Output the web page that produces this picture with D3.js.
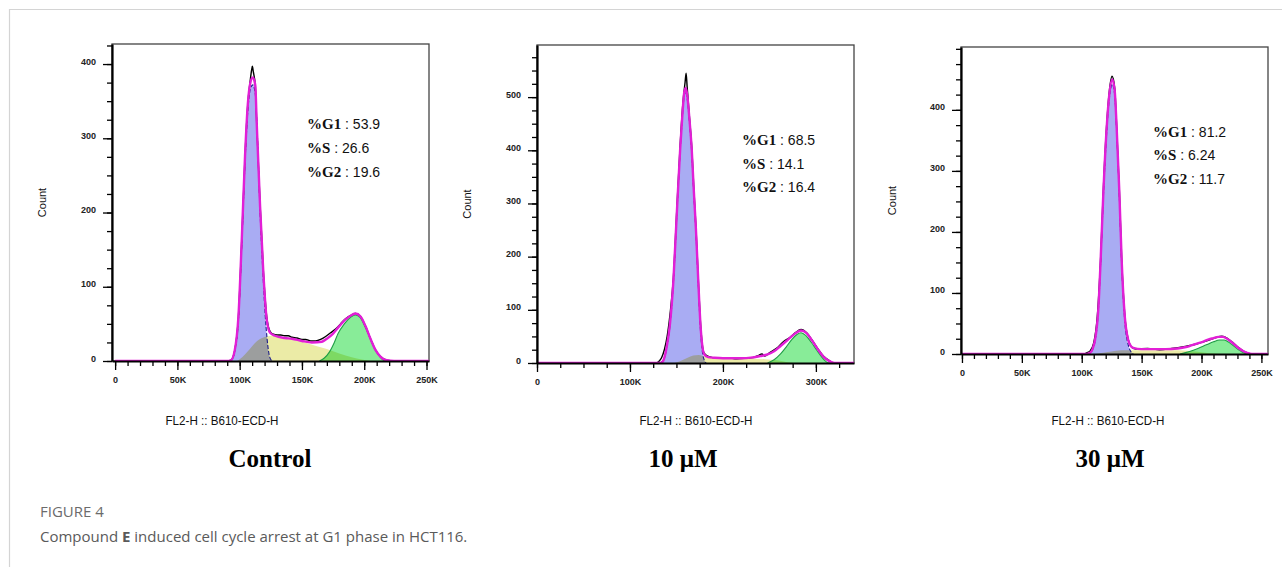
<!DOCTYPE html>
<html>
<head>
<meta charset="utf-8">
<script src="https://cdn.jsdelivr.net/npm/d3@7/dist/d3.min.js"></script>
<style>
  body { margin: 0; background: #fff; }
  svg { display: block; font-family: "Liberation Sans", Arial, sans-serif; }
  .axis .domain { stroke: #000; stroke-width: 2.2; }
  .axis line { stroke: #000; stroke-width: 1.3; }
  .axis text { font-size: 9px; font-weight: bold; fill: #222; font-family: "Liberation Sans", Arial, sans-serif; }
  .frame { fill: none; stroke: #444; stroke-width: 1.3; }
  .blend { mix-blend-mode: multiply; }
</style>
</head>
<body>
<div id="chart"></div>
<script>
// ---- labels ----
const conditions = ["Control", "10 μM", "30 μM"];
const g1Pct = ["53.9", "68.5", "81.2"];
const sPct = ["26.6", "14.1", "6.24"];
const g2Pct = ["19.6", "16.4", "11.7"];
const xTitle = "FL2-H :: B610-ECD-H";

// tick values (x in thousands)
const ctrlXTicks = [0, 50, 100, 150, 200, 250];
const ctrlYTicks = [0, 100, 200, 300, 400];
const uM10XTicks = [0, 100, 200, 300];
const uM10YTicks = [0, 100, 200, 300, 400, 500];
const uM30XTicks = [0, 50, 100, 150, 200, 250];
const uM30YTicks = [0, 100, 200, 300, 400];

// ---- Control: [FL2-H (K), count] ----
const ctrlData = [[0,0],[90,0],[93,1],[96,14],[99,60],[101.7,164],[104.3,276],[106.5,345],[108.5,378],[109.6,392],[110.2,397],[110.9,390],[112.5,372],[113.7,320],[116.4,210],[119,122],[121.7,60],[124.4,40],[127,36],[130,35],[133,35],[136,34],[139,34],[142,32],[146,31],[150,29],[153,29],[157,27],[161,27],[165,29],[169,33],[173,38],[177,43],[181,50],[185,57],[190,62],[193,64],[197,60],[201,47],[205,30],[209,15],[213,6],[218,1],[224,0],[252,0]];
const ctrlFit = [[0,0],[90,0],[93,1],[96,14],[99,60],[101.7,164],[104.3,276],[106.5,345],[108.5,374],[110.5,382],[112.5,372],[113.7,320],[116.4,208],[119,119],[121.7,56],[124.4,38],[128.4,34],[136.4,31],[142,30],[150,27],[158,25],[166,26],[170,30],[175,37],[180,47],[185,56],[190,62],[193,64],[197,60],[201,47],[205,30],[209,15],[213,6],[218,1],[224,0],[252,0]];
const ctrlG1 = [[92,0],[94,3],[96,13],[99,55],[101.7,158],[104.3,268],[106.5,336],[108.5,366],[110.5,372],[112.5,360],[114,312],[116.4,200],[119,108],[120.5,62],[122,30],[123.5,10],[125,2],[126.5,0]];
const ctrlS = [[98,0],[102,5],[106,12],[110,20],[114,27],[118,31],[122,33],[126,34],[132,33],[140,30],[150,26],[160,21],[170,16],[180,10],[190,5],[198,2],[205,0]];
const ctrlG2 = [[164,0],[168,4],[172,12],[176,25],[179,37],[184,50],[189,59],[193,62],[197,58],[201,45],[205,30],[209,15],[213,5],[216,0]];

// ---- 10 μM ----
const uM10Data = [[0,0],[128,0],[131,3],[134,10],[137,25],[140,50],[143,90],[146.7,160],[150.3,285],[154,410],[157,490],[159.3,528],[160.4,545],[161.5,520],[164,462],[166.5,405],[168.5,335],[171,255],[173.6,155],[176,72],[178,32],[180,18],[185,12],[195,9],[205,10],[215,8],[225,9],[232,10],[238,14],[242,17],[245,13],[250,19],[258,28],[265,40],[272,48],[278,57],[284,63],[290,57],[296,43],[302,27],[308,13],[314,5],[320,0],[341,0]];
const uM10Fit = [[0,0],[133,0],[136,5],[139.5,30],[143,73],[146.7,154],[150.3,278],[154,402],[156.5,470],[158.5,510],[160,517],[161.5,505],[164,458],[166.5,400],[168.5,330],[171,250],[173.6,150],[176,68],[178,30],[180,16],[184,11],[190,10],[200,9],[210,9],[220,9],[230,10],[240,13],[248,16],[255,22],[262,32],[270,44],[278,56],[284,61],[290,56],[296,42],[302,26],[308,12],[314,4],[320,0],[341,0]];
const uM10G1 = [[132,0],[136,5],[139.5,28],[143,70],[146.7,150],[150.3,274],[154,398],[156.5,465],[158.5,504],[160,510],[161.5,498],[164,452],[166.5,393],[168.5,323],[171,243],[173.6,143],[176,58],[178,20],[180,5],[182,0]];
const uM10S = [[148,0],[155,4],[162,10],[168,14],[174,15],[180,12],[188,9],[200,8],[215,8],[230,8],[245,7],[258,5],[268,2],[276,0]];
const uM10G2 = [[248,0],[255,6],[262,17],[268,30],[274,44],[280,54],[284,57],[289,52],[295,39],[301,24],[306,12],[310,4],[313,0]];

// ---- 30 μM ----
const uM30Data = [[0,0],[102,0],[104,2],[107,5],[110,18],[113,62],[115.8,158],[118,268],[120.8,375],[123,430],[125.3,455],[127.5,436],[129,380],[131.4,268],[133.3,158],[136,62],[138.8,24],[141,13],[145,8],[155,9],[165,7],[175,9],[185,12],[190,14],[195,16],[200,19],[205,22],[212,27],[217,29],[222,25],[226,19],[230,12],[234.7,5],[238,2],[242,0],[255.5,0]];
const uM30Fit = [[0,0],[104,0],[107,2],[109,8],[111,22],[113.9,75],[115.8,155],[118,262],[120.8,370],[123,425],[125.5,450],[127.5,432],[129,378],[131.4,265],[133.3,155],[136,60],[138.8,23],[141,13],[143,10],[150,8],[160,8],[170,8],[180,9],[186,11],[190,13],[196,17],[201,20],[206,24],[210,26],[214,28],[218,28],[222,24],[226,18],[230,11],[234.7,5],[238,2],[242,0],[255.5,0]];
const uM30G1 = [[104,0],[107,2],[109,7],[111,20],[113.9,72],[115.8,150],[118,255],[120.8,362],[123,418],[125.5,442],[127.5,425],[129,372],[131.4,258],[133.3,148],[136,52],[138.8,15],[141,4],[143,0]];
const uM30S = [[112,0],[118,2],[125,4],[133,6],[140,6],[150,6],[165,6],[180,6],[190,5],[200,3],[210,1],[216,0]];
const uM30G2 = [[182,0],[190,4],[197,9],[204,15],[210,20],[215,23],[219,23],[223,19],[227,13],[231,7],[235,2],[238,0]];


class CycleHistogram {

    constructor(svg, id, layout, series, stats) {
        this.svg = svg;
        this.id = id;
        this.layout = layout;
        this.series = series;
        this.stats = stats;
        this.initVis();
    }

    initVis() {
        let vis = this;
        let L = vis.layout;

        vis.x = d3.scaleLinear().domain(L.xDomain).range([L.left, L.right]);
        vis.y = d3.scaleLinear().domain(L.yDomain).range([L.bottom, L.top]);

        vis.g = vis.svg.append("g").attr("class", "panel");

        vis.g.append("clipPath").attr("id", "clip-" + vis.id)
            .append("rect")
            .attr("x", L.left).attr("y", L.top)
            .attr("width", L.right - L.left).attr("height", L.bottom - L.top);

        vis.g.append("rect").attr("class", "frame")
            .attr("x", L.left).attr("y", L.top)
            .attr("width", L.right - L.left).attr("height", L.bottom - L.top);

        let plot = vis.g.append("g")
            .attr("clip-path", `url(#clip-${vis.id})`)
            .style("isolation", "isolate");

        let area = d3.area()
            .x(d => vis.x(d[0]))
            .y0(vis.y(0))
            .y1(d => vis.y(d[1]))
            .curve(d3.curveMonotoneX);
        let line = d3.line()
            .x(d => vis.x(d[0]))
            .y(d => vis.y(d[1]))
            .curve(d3.curveMonotoneX);

        // phase fills (overlaps darken through multiply)
        plot.append("path").datum(vis.series.g1)
            .attr("d", area).attr("fill", "#a9acf3");
        plot.append("path").datum(vis.series.s)
            .attr("class", "blend").attr("d", area).attr("fill", "#ebeba6");
        plot.append("path").datum(vis.series.g2)
            .attr("class", "blend").attr("d", area).attr("fill", "#88ec98");

        plot.append("path").datum(vis.series.g1)
            .attr("d", line).attr("fill", "none")
            .attr("stroke", "#1d1d8a").attr("stroke-width", 1.1)
            .attr("stroke-dasharray", "4,2");
        plot.append("path").datum(vis.series.g2)
            .attr("d", line).attr("fill", "none")
            .attr("stroke", "#1f9e45").attr("stroke-width", 1.1);

        plot.append("path").datum(vis.series.data)
            .attr("d", line).attr("fill", "none")
            .attr("stroke", "#000").attr("stroke-width", 1.4);
        plot.append("path").datum(vis.series.fit)
            .attr("d", line).attr("fill", "none")
            .attr("stroke", "#e21fd6").attr("stroke-width", 2.4);

        // axes
        let fmtK = d => d === 0 ? "0" : d + "K";
        let xMinor = d3.range(0, L.xDomain[1], L.xMinor);
        let yMinor = d3.range(0, L.yDomain[1], 25);

        vis.g.append("g").attr("class", "axis")
            .attr("transform", `translate(0,${L.bottom})`)
            .call(d3.axisBottom(vis.x).tickValues(xMinor).tickSize(5).tickSizeOuter(0).tickFormat(""))
            .select(".domain").remove();
        vis.g.append("g").attr("class", "axis")
            .attr("transform", `translate(${L.left},0)`)
            .call(d3.axisLeft(vis.y).tickValues(yMinor).tickSize(5).tickSizeOuter(0).tickFormat(""))
            .select(".domain").remove();

        vis.g.append("g").attr("class", "axis x-axis")
            .attr("transform", `translate(0,${L.bottom})`)
            .call(d3.axisBottom(vis.x).tickValues(L.xTicks).tickSize(9).tickPadding(7).tickSizeOuter(0).tickFormat(fmtK));
        vis.g.append("g").attr("class", "axis y-axis")
            .attr("transform", `translate(${L.left},0)`)
            .call(d3.axisLeft(vis.y).tickValues(L.yTicks).tickSize(9).tickPadding(7).tickSizeOuter(0))
            .selectAll("text").attr("dy", "0em");

        // titles
        vis.g.append("text")
            .attr("transform", `translate(${L.countX},${(L.top + L.bottom) / 2}) rotate(-90)`)
            .attr("text-anchor", "middle")
            .style("font-size", "11px").style("fill", "#111")
            .text("Count");

        vis.g.append("text")
            .attr("x", L.titleX).attr("y", 425)
            .attr("text-anchor", "middle")
            .attr("textLength", 113).attr("lengthAdjust", "spacingAndGlyphs")
            .style("font-size", "12px").style("fill", "#111")
            .text(xTitle);

        vis.g.append("text")
            .attr("x", L.condX).attr("y", 467)
            .attr("text-anchor", "middle")
            .style("font-family", "'Liberation Serif', 'Times New Roman', serif")
            .style("font-weight", "bold").style("font-size", "25px")
            .text(vis.stats.label);

        // phase percentages
        let rows = [["%G1", vis.stats.g1], ["%S", vis.stats.s], ["%G2", vis.stats.g2]];
        rows.forEach((r, i) => {
            let t = vis.g.append("text")
                .attr("x", L.statX).attr("y", L.statY + i * L.statGap)
                .style("fill", "#111");
            t.append("tspan")
                .style("font-family", "'Liberation Serif', 'Times New Roman', serif")
                .style("font-weight", "bold").style("font-size", "15px")
                .text(r[0]);
            t.append("tspan")
                .style("font-size", "14px")
                .text("\u00a0:\u00a0" + r[1]);
        });
    }
}

const svg = d3.select("#chart").append("svg")
    .attr("width", 1282).attr("height", 567);

// page border
svg.append("path")
    .attr("d", "M9.5,567V9.5H1282")
    .attr("fill", "none").attr("stroke", "#d4d4d4").attr("stroke-width", 1.2);

const layouts = [
    {left: 112, right: 429, top: 44, bottom: 361, xDomain: [-2.5, 252], yDomain: [0, 427],
     xTicks: ctrlXTicks, yTicks: ctrlYTicks, xMinor: 10, countX: 46, titleX: 222, condX: 270,
     statX: 307, statY: 129, statGap: 24},
    {left: 537, right: 854, top: 45, bottom: 363, xDomain: [0, 341], yDomain: [0, 598],
     xTicks: uM10XTicks, yTicks: uM10YTicks, xMinor: 25, countX: 471, titleX: 696, condX: 683,
     statX: 742, statY: 145, statGap: 23.5},
    {left: 961, right: 1268, top: 47, bottom: 354, xDomain: [-0.8, 255.5], yDomain: [0, 503],
     xTicks: uM30XTicks, yTicks: uM30YTicks, xMinor: 10, countX: 896, titleX: 1108, condX: 1110,
     statX: 1153, statY: 136.5, statGap: 23.5}
];

const panels = [
    {data: ctrlData, fit: ctrlFit, g1: ctrlG1, s: ctrlS, g2: ctrlG2},
    {data: uM10Data, fit: uM10Fit, g1: uM10G1, s: uM10S, g2: uM10G2},
    {data: uM30Data, fit: uM30Fit, g1: uM30G1, s: uM30S, g2: uM30G2}
];

panels.forEach((p, i) => {
    new CycleHistogram(svg, i, layouts[i], p,
        {label: conditions[i], g1: g1Pct[i], s: sPct[i], g2: g2Pct[i]});
});

// caption
svg.append("text")
    .attr("x", 40).attr("y", 517)
    .style("font-family", "'Open Sans', 'Noto Sans', sans-serif")
    .style("font-size", "15px").style("fill", "#6b6b6b")
    .text("FIGURE 4");

let cap = svg.append("text")
    .attr("x", 40).attr("y", 542)
    .style("font-family", "'Open Sans', 'Noto Sans', sans-serif")
    .style("font-size", "15px").style("fill", "#5a5a5a");
cap.append("tspan").text("Compound ");
cap.append("tspan").style("font-weight", "bold").text("E");
cap.append("tspan").text(" induced cell cycle arrest at G1 phase in HCT116.");
</script>
</body>
</html>
